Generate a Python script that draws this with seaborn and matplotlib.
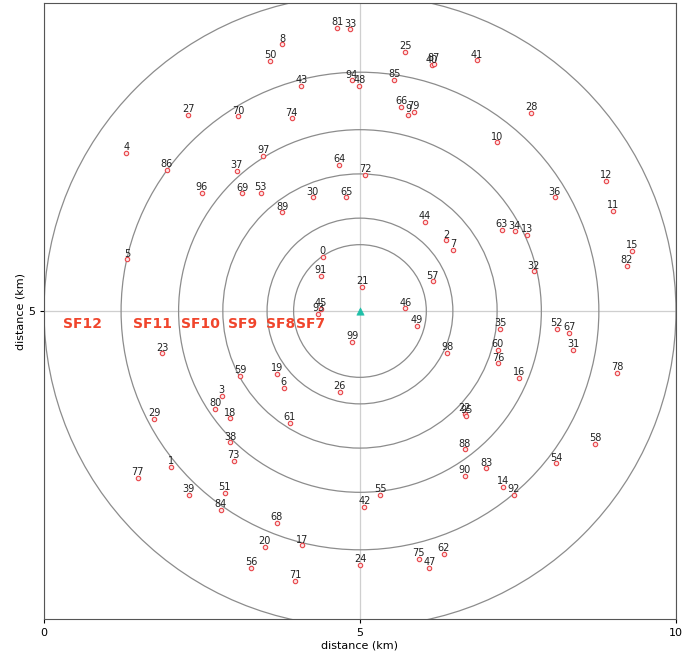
import matplotlib
matplotlib.use("Agg")
import matplotlib.pyplot as plt
from matplotlib import font_manager
import numpy as np
import pandas as pd
import seaborn as sns

# Node positions (km) for devices 0..99
node_id = list(range(100))
node_x = [4.41, 2.01, 6.36, 2.81, 1.30, 1.32, 3.79, 6.47, 3.77, 5.76,
          7.17, 9.01, 8.90, 7.65, 7.27, 9.31, 7.51, 4.09, 2.94, 3.69,
          3.49, 5.04, 6.66, 1.87, 5.00, 5.72, 4.68, 2.28, 7.71, 1.74,
          4.25, 8.37, 7.75, 4.85, 7.45, 7.22, 8.08, 3.05, 2.95, 2.29,
          6.14, 6.85, 5.07, 4.07, 6.03, 4.38, 5.72, 6.10, 4.99, 5.90,
          3.58, 2.86, 8.11, 3.43, 8.10, 5.32, 3.28, 6.15, 8.72, 3.10,
          7.18, 3.89, 6.33, 7.24, 4.67, 4.78, 5.65, 8.31, 3.68, 3.14,
          3.07, 3.97, 5.08, 3.00, 3.92, 5.93, 7.19, 1.48, 9.07, 5.85,
          2.71, 4.64, 9.22, 7.00, 2.80, 5.54, 1.94, 6.17, 6.66, 3.77,
          6.66, 4.38, 7.43, 4.34, 4.87, 6.68, 2.50, 3.47, 6.38, 4.88]
node_y = [5.86, 2.53, 6.12, 3.66, 7.50, 5.82, 3.78, 5.97, 9.22, 8.10,
          7.67, 6.59, 7.06, 6.21, 2.22, 5.95, 3.94, 1.29, 3.30, 4.00,
          1.27, 5.38, 3.37, 4.33, 0.98, 9.10, 3.72, 8.11, 8.14, 3.29,
          6.80, 4.39, 5.63, 9.46, 6.26, 4.72, 6.80, 7.22, 2.92, 2.09,
          8.89, 8.97, 1.90, 8.56, 6.41, 5.03, 5.04, 0.93, 8.56, 4.76,
          8.96, 2.12, 4.72, 6.87, 2.59, 2.09, 0.93, 5.47, 2.90, 3.97,
          4.39, 3.23, 1.16, 6.28, 7.31, 6.80, 8.23, 4.65, 1.65, 6.86,
          8.08, 0.73, 7.16, 2.63, 8.05, 1.08, 4.17, 2.36, 4.02, 8.15,
          3.45, 9.48, 5.72, 2.51, 1.85, 8.66, 7.23, 8.91, 2.81, 6.56,
          2.39, 5.56, 2.09, 4.95, 8.65, 3.34, 6.87, 7.46, 4.34, 4.51]

# Gateway location and spreading-factor coverage rings (km)
gateway_x = [5.0]
gateway_y = [5.0]
ring_radius = [1.05, 1.47, 2.17, 2.87, 3.78, 5.0]
sf_names = ["SF7", "SF8", "SF9", "SF10", "SF11", "SF12"]
sf_label_x = [4.22, 3.74, 3.14, 2.48, 1.72, 0.61]
sf_label_y = 4.79

nodes = pd.DataFrame({"id": node_id, "x": node_x, "y": node_y})

available = {f.name for f in font_manager.fontManager.ttflist}
base_family = ["DejaVu Sans Condensed", "DejaVu Sans"] if "DejaVu Sans Condensed" in available else ["DejaVu Sans"]
plt.rcParams["font.family"] = base_family

fig = plt.figure(figsize=(6.96, 6.58), dpi=100)
ax = fig.add_axes([0.0632, 0.0593, 0.9080, 0.9361])

for r in ring_radius:
    ax.add_patch(plt.Circle((gateway_x[0], gateway_y[0]), r, fill=False,
                            edgecolor="#8c8c8c", linewidth=0.9))

sns.scatterplot(data=nodes, x="x", y="y", ax=ax, marker="o", s=10,
                facecolor="#fbe3e3", edgecolor="#e8454a", linewidth=0.8,
                zorder=3, legend=False)

for i, xv, yv in zip(node_id, node_x, node_y):
    ax.annotate(str(i), (xv, yv), xytext=(0, 0.5), textcoords="offset points",
                ha="center", va="bottom", fontsize=7, color="#222222", zorder=4)

sns.scatterplot(x=gateway_x, y=gateway_y, ax=ax, marker="^", s=28,
                color="#1fbfa8", edgecolor="#1fbfa8", zorder=5, legend=False)

for name, lx in zip(sf_names, sf_label_x):
    ax.text(lx, sf_label_y, name, ha="center", va="center", fontsize=10,
            fontweight="bold", color="#f0452c", zorder=4)

ax.set_xlim(0, 10)
ax.set_ylim(0.125, 9.875)
ax.set_xticks([0, 5, 10])
ax.set_yticks([5])
ax.tick_params(labelsize=8, length=3)
ax.grid(True, color="#cfcfcf", linewidth=0.9)
ax.set_axisbelow(True)
ax.set_xlabel("distance (km)", fontsize=8, labelpad=2)
ax.set_ylabel("distance (km)", fontsize=8, labelpad=2)
for sp in ax.spines.values():
    sp.set_color("#555555")

fig.savefig("out.png", dpi=100)
